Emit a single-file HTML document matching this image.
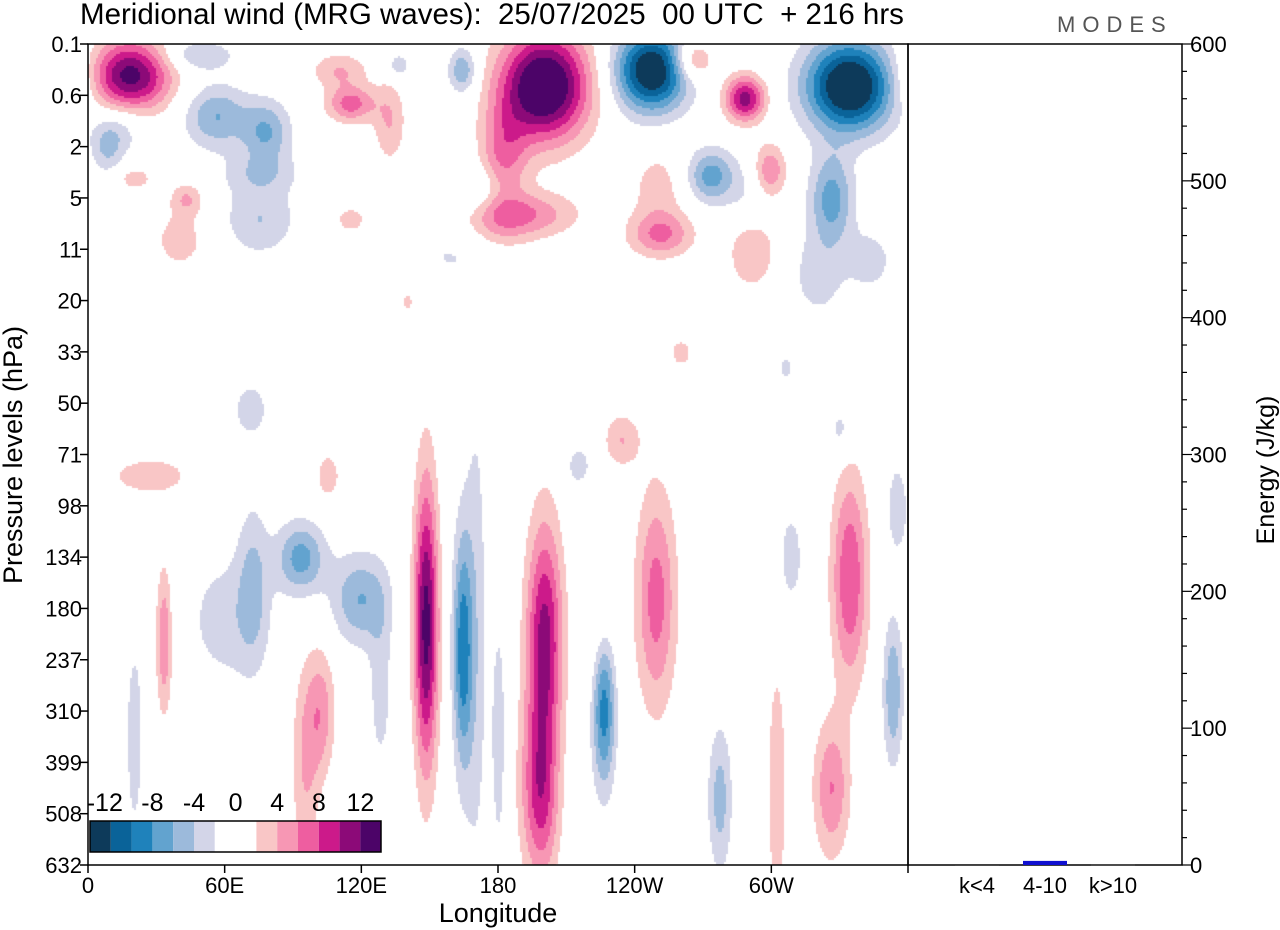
<!DOCTYPE html>
<html><head><meta charset="utf-8">
<style>
body{margin:0;background:#fff;width:1280px;height:930px;overflow:hidden;font-family:"Liberation Sans",sans-serif}
#cv{position:absolute;left:88px;top:44px}
svg{position:absolute;left:0;top:0}
text{font-family:"Liberation Sans",sans-serif;fill:#000}
</style></head><body>
<canvas id="cv" width="820" height="821"></canvas>
<svg id="ov" width="1280" height="930"></svg>
<script>
// blobs: lon (deg), level index (0..16), lon extent, level extent, peak value
const blobLon=[18,48,56,78,8,110,115,132,136,164,200,182,194,247,288,265,334,273,299,326,251,291,115,75,43,20,75,115,170,343,
71,27,105,93,119,148,164,170,200,200,226,249,234,215,277,302,334,326,353,355,308,33,20,102,95,72,128,180,330,140,225,260,306,
175,160,320,40,250,290,60,15,196];
const blobLev=[0.6,0.2,1.4,1.7,2.0,0.5,1.15,1.5,0.4,0.5,0.8,2.2,3.3,0.5,1.05,0.3,0.8,2.55,2.45,3.0,3.7,3.9,3.3,3.4,3.0,2.6,2.5,3.1,2.8,4.2,
7.1,8.4,8.4,10.0,10.8,11.3,11.8,11.5,11.6,14.8,12.8,10.8,7.7,8.2,14.7,14.5,10.4,14.5,12.6,9.0,10.0,11.6,13.5,13.0,14.0,10.5,12.5,13.5,7.5,5.0,11.5,6.0,6.3,
3.5,4.0,4.5,3.8,2.8,3.2,11.2,1.6,14.5];
const blobWx=[20,18,16,12,8,14,12,8,5,7,22,12,24,18,10,10,22,12,8,11,16,12,12,18,8,10,20,14,16,12,
10,24,7,12,14,6,5,6,9,8,6,10,9,7,6,6,9,9,5,5,7,4,5,7,7,8,6,4,6,4,8,6,5,
22,20,14,14,14,12,20,12,9];
const blobWy=[0.8,0.35,0.7,0.7,0.6,0.4,0.4,0.9,0.25,0.5,1.2,1.2,0.5,0.9,0.5,0.45,1.0,0.6,0.6,1.0,0.5,0.9,0.5,0.8,0.35,0.3,0.45,0.6,0.5,0.7,
0.7,0.5,0.6,0.8,1.0,3.2,2.6,6.0,2.6,1.8,1.8,2.4,0.6,0.5,1.6,3.5,2.3,1.5,1.6,1.0,1.2,1.6,2.5,1.4,2.2,1.8,2.0,3.0,0.6,0.35,2.0,0.35,0.35,
0.6,0.8,1.0,0.7,0.9,0.9,1.5,0.6,2.0];
const blobAmp=[13,-4,-6,-6,-4,4,7,4,-4,-6,16,6,5,-15,11,6,-16,-7,6,-7,6,5,5,-4,4,3,-3,-3,-3,-3,
-3,3,3,-7,-6,13,-9,-3,11,4,-11,7,4,-3,-5,3,8,6,-6,-4,-3,6,-3,5,4,-4,-3,-3,-3,2.5,4,3,-2.5,
3,-2.5,-3,3,3,-3,-3,-3,5];
const edges=[-14,-12,-10,-8,-6,-4,-2,0,2,4,6,8,10,12,14];
const cols=['#0d3a5a','#0a6399','#1f82bb','#62a3cf','#9cbadb','#d3d5e8','#ffffff','#ffffff','#f9c6c6','#f797b4','#ee5ea0','#cc1a8a','#8c0a78','#4c0468'];
const levels=['0.1','0.6','2','5','11','20','33','50','71','98','134','180','237','310','399','508','632'];
const lonTicks=['0','60E','120E','180','120W','60W'];
const energyTicks=[0,100,200,300,400,500,600];
const bandLabels=['k<4','4-10','k>10'];
const bandEnergy=[0.5,3,0.4];

const X0=88,X1=908,Y0=44,Y1=865;
const xs=l=>X0+(l/360)*(X1-X0);
const ys=k=>Y0+(k/16)*(Y1-Y0);
const ey=e=>Y1-(e/600)*(Y1-Y0);

const cv=document.getElementById('cv'),ctx=cv.getContext('2d');
const W=820,H=821,st=2;
const rgb=cols.map(c=>[parseInt(c.slice(1,3),16),parseInt(c.slice(3,5),16),parseInt(c.slice(5,7),16)]);
const img=ctx.createImageData(W,H);
for(let py=0;py<H;py+=st){const k=py/(H)*16;
 for(let px=0;px<W;px+=st){const lon=px/W*360;let v=0;
  for(let b=0;b<blobLon.length;b++){let dx=lon-blobLon[b];if(dx>180)dx-=360;if(dx<-180)dx+=360;
   dx/=blobWx[b];const dy=(k-blobLev[b])/blobWy[b];const r=dx*dx+dy*dy;if(r<12)v+=blobAmp[b]*Math.exp(-1.3*r);}
  let i=0;while(i<edges.length-2&&v>=edges[i+1])i++;
  const c=rgb[i];
  for(let yy=0;yy<st&&py+yy<H;yy++)for(let xx=0;xx<st&&px+xx<W;xx++){const o=((py+yy)*W+px+xx)*4;img.data[o]=c[0];img.data[o+1]=c[1];img.data[o+2]=c[2];img.data[o+3]=255;}
 }}
ctx.putImageData(img,0,0);

const svg=document.getElementById('ov');const NS='http://www.w3.org/2000/svg';
function mk(t,a,txt){const e=document.createElementNS(NS,t);for(const k in a)e.setAttribute(k,a[k]);if(txt!==undefined)e.textContent=txt;svg.appendChild(e);return e;}
let e;
e=mk('rect',{x:X0,y:Y0,width:X1-X0,height:Y1-Y0,fill:'none',stroke:'#000','stroke-width':1.5});

e=mk('rect',{x:X1,y:Y0,width:1182-X1,height:Y1-Y0,fill:'none',stroke:'#000','stroke-width':1.5});

levels.forEach((l,i)=>{const y=ys(i);mk('line',{x1:X0-8,x2:X0,y1:y,y2:y,stroke:'#000','stroke-width':1.5});
 e=mk('text',{x:X0-6,y:y+8,'text-anchor':'end','font-size':22},l);
 });
lonTicks.forEach((l,i)=>{const x=xs(i*60);mk('line',{x1:x,x2:x,y1:Y1,y2:Y1+8,stroke:'#000','stroke-width':1.5});
 e=mk('text',{x:x,y:893,'text-anchor':'middle','font-size':22},l);
 });
mk('line',{x1:X1,x2:X1,y1:Y1,y2:Y1+8,stroke:'#000','stroke-width':1.5});
for(let v=0;v<=600;v+=20){const y=ey(v);const maj=v%100===0;mk('line',{x1:1182,x2:1182+(maj?10:5),y1:y,y2:y,stroke:'#000','stroke-width':1.2});}
energyTicks.forEach(v=>{e=mk('text',{x:1190,y:ey(v)+8,'font-size':22},String(v));
 });
bandLabels.forEach((l,i)=>{const cx=977+i*68;
 e=mk('rect',{x:cx-22,y:ey(bandEnergy[i]),width:44,height:Math.max(1,Y1-ey(bandEnergy[i])),fill:i===1?'#1010d0':'#222'});
 
 e=mk('text',{x:cx,y:893,'text-anchor':'middle','font-size':22},l);
 });
cols.forEach((c,i)=>{e=mk('rect',{x:90+i*20.8,y:821,width:20.8,height:31,fill:c});
 });
mk('rect',{x:90,y:821,width:291,height:31,fill:'none',stroke:'#000','stroke-width':1.5});
[-12,-8,-4,0,4,8,12].forEach(v=>{const x=90+(v+14)/2*20.8;
 e=mk('text',{x:x-(v===-12?6:0),y:811,'text-anchor':'middle','font-size':25},String(v));
 });
e=mk('text',{x:80,y:24,'font-size':29.5},'Meridional wind (MRG waves):  25/07/2025  00 UTC  + 216 hrs');
e.style.whiteSpace='pre';
e=mk('text',{x:1057,y:32,'font-size':22,'letter-spacing':'7',fill:'#555'},'MODES');
e.style.fill='#555';
e=mk('text',{x:498,y:922,'text-anchor':'middle','font-size':27},'Longitude');

e=mk('text',{x:0,y:0,'text-anchor':'middle','font-size':27,transform:'translate(22,455) rotate(-90)'},'Pressure levels (hPa)');

e=mk('text',{x:0,y:0,'text-anchor':'middle','font-size':25,transform:'translate(1274,470) rotate(-90)'},'Energy (J/kg)');

</script>
</body></html>
